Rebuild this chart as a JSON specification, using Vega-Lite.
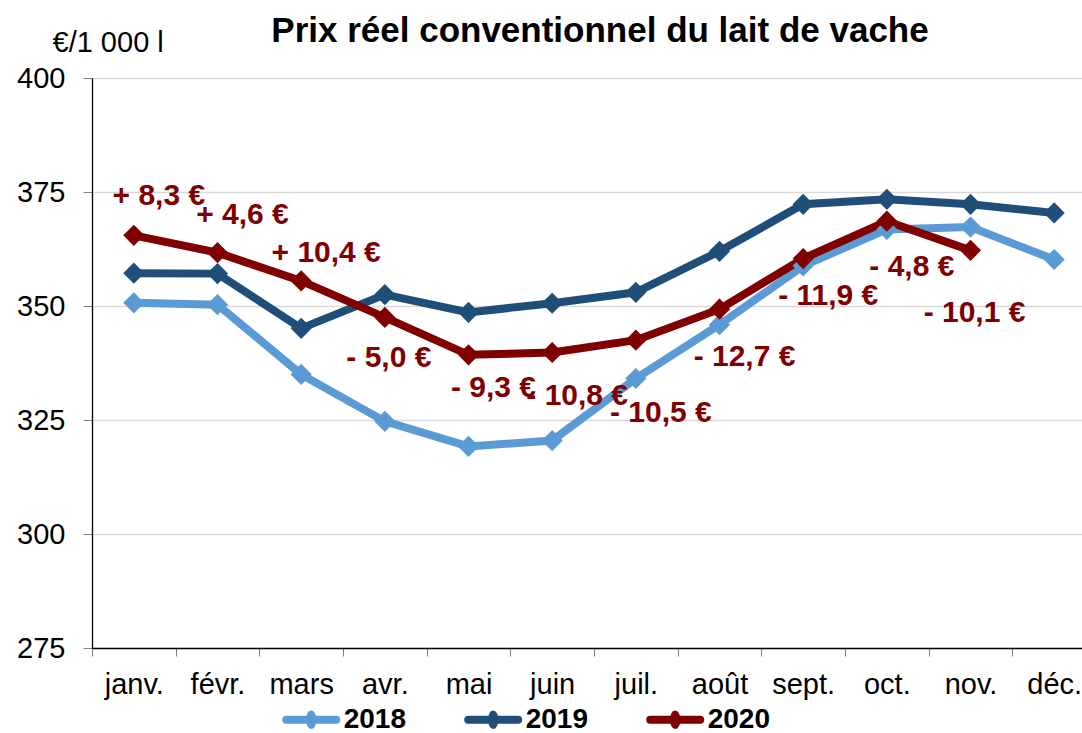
{
  "$schema": "https://vega.github.io/schema/vega-lite/v6.json",
  "autosize": {"type": "none"},
  "padding": {"left": 92, "top": 78, "right": 0, "bottom": 85},
  "width": 990,
  "height": 570,
  "background": "white",
  "config": {
    "font": "Liberation Sans",
    "view": {"stroke": null}
  },
  "title": {
    "text": "Prix réel conventionnel du lait de vache",
    "fontSize": 35,
    "fontWeight": "bold",
    "color": "black",
    "anchor": "middle",
    "frame": "group",
    "dx": 13,
    "dy": 21,
    "offset": 0
  },
  "datasets": {
    "prices": [
      {"month": "janv.", "year": "2018", "value": 350.7},
      {"month": "févr.", "year": "2018", "value": 350.3},
      {"month": "mars", "year": "2018", "value": 335.0},
      {"month": "avr.", "year": "2018", "value": 324.7},
      {"month": "mai", "year": "2018", "value": 319.2},
      {"month": "juin", "year": "2018", "value": 320.5},
      {"month": "juil.", "year": "2018", "value": 334.1},
      {"month": "août", "year": "2018", "value": 345.9},
      {"month": "sept.", "year": "2018", "value": 358.8},
      {"month": "oct.", "year": "2018", "value": 366.8},
      {"month": "nov.", "year": "2018", "value": 367.3},
      {"month": "déc.", "year": "2018", "value": 360.2},
      {"month": "janv.", "year": "2019", "value": 357.2},
      {"month": "févr.", "year": "2019", "value": 357.1},
      {"month": "mars", "year": "2019", "value": 345.1},
      {"month": "avr.", "year": "2019", "value": 352.5},
      {"month": "mai", "year": "2019", "value": 348.6},
      {"month": "juin", "year": "2019", "value": 350.6},
      {"month": "juil.", "year": "2019", "value": 353.0},
      {"month": "août", "year": "2019", "value": 362.0},
      {"month": "sept.", "year": "2019", "value": 372.3},
      {"month": "oct.", "year": "2019", "value": 373.4},
      {"month": "nov.", "year": "2019", "value": 372.3},
      {"month": "déc.", "year": "2019", "value": 370.4},
      {"month": "janv.", "year": "2020", "value": 365.5},
      {"month": "févr.", "year": "2020", "value": 361.7},
      {"month": "mars", "year": "2020", "value": 355.5},
      {"month": "avr.", "year": "2020", "value": 347.5},
      {"month": "mai", "year": "2020", "value": 339.3},
      {"month": "juin", "year": "2020", "value": 339.8},
      {"month": "juil.", "year": "2020", "value": 342.5},
      {"month": "août", "year": "2020", "value": 349.3},
      {"month": "sept.", "year": "2020", "value": 360.4},
      {"month": "oct.", "year": "2020", "value": 368.6},
      {"month": "nov.", "year": "2020", "value": 362.2}
    ],
    "labels": [
      {"month": "janv.", "label": "+ 8,3 €", "label_y": 374.1},
      {"month": "févr.", "label": "+ 4,6 €", "label_y": 370.0},
      {"month": "mars", "label": "+ 10,4 €", "label_y": 361.6},
      {"month": "avr.", "label": "- 5,0 €", "label_y": 338.6},
      {"month": "mai", "label": "- 9,3 €", "label_y": 332.0},
      {"month": "juin", "label": "- 10,8 €", "label_y": 330.3},
      {"month": "juil.", "label": "- 10,5 €", "label_y": 326.5},
      {"month": "août", "label": "- 12,7 €", "label_y": 338.8},
      {"month": "sept.", "label": "- 11,9 €", "label_y": 352.2},
      {"month": "oct.", "label": "- 4,8 €", "label_y": 358.5},
      {"month": "nov.", "label": "- 10,1 €", "label_y": 348.5}
    ]
  },
  "layer": [
    {
      "data": {"name": "prices"},
      "mark": {
        "type": "line",
        "strokeWidth": 8,
        "point": {"shape": "diamond", "filled": true, "size": 450, "opacity": 1}
      },
      "encoding": {
        "x": {
          "field": "month",
          "type": "ordinal",
          "sort": ["janv.", "févr.", "mars", "avr.", "mai", "juin", "juil.", "août", "sept.", "oct.", "nov.", "déc."],
          "scale": {
            "type": "band",
            "domain": ["janv.", "févr.", "mars", "avr.", "mai", "juin", "juil.", "août", "sept.", "oct.", "nov.", "déc."],
            "range": [0, 1004],
            "paddingInner": 0,
            "paddingOuter": 0
          },
          "axis": {
            "title": null,
            "labelAngle": 0,
            "labelFontSize": 29,
            "labelColor": "black",
            "labelBaseline": "top",
            "labelPadding": 14,
            "tickBand": "extent",
            "ticks": true,
            "tickSize": 8,
            "tickColor": "#808080",
            "domainColor": "black",
            "domainWidth": 1.3,
            "grid": false
          }
        },
        "y": {
          "field": "value",
          "type": "quantitative",
          "scale": {"domain": [275, 400], "nice": false, "zero": false},
          "axis": {
            "title": "€/1 000 l",
            "titleAngle": 0,
            "titleX": -40,
            "titleY": -27,
            "titleAlign": "left",
            "titleBaseline": "alphabetic",
            "titleFontSize": 29,
            "titleFontWeight": "normal",
            "titleColor": "black",
            "values": [275, 300, 325, 350, 375, 400],
            "labelFontSize": 29,
            "labelColor": "black",
            "labelPadding": 18,
            "tickSize": 9,
            "tickColor": "#808080",
            "domainColor": "black",
            "domainWidth": 1.3,
            "grid": true,
            "gridColor": "#d9d9d9",
            "gridWidth": 1.3
          }
        },
        "color": {
          "field": "year",
          "type": "nominal",
          "scale": {"domain": ["2018", "2019", "2020"], "range": ["#5b9bd5", "#1f4e79", "#800000"]},
          "legend": {
            "title": null,
            "orient": "none",
            "direction": "horizontal",
            "legendX": 189.7,
            "legendY": 612,
            "padding": 0,
            "symbolType": "M-0.98,0L0.98,0M0,-0.2L0.08,0L0,0.2L-0.08,0Z",
            "symbolSize": 2601,
            "symbolStrokeWidth": 8,
            "labelFontSize": 28,
            "labelFontWeight": "bold",
            "labelColor": "black",
            "labelOffset": 3,
            "columnPadding": 57,
            "encode": {
              "symbols": {
                "update": {
                  "fill": {"scale": "color", "field": "value"},
                  "strokeCap": {"value": "round"},
                  "strokeJoin": {"value": "round"},
                  "opacity": {"value": 1}
                }
              }
            }
          }
        }
      }
    },
    {
      "data": {"name": "labels"},
      "transform": [{"filter": "datum.month != 'avr.' && datum.month != 'nov.'"}],
      "mark": {"type": "text", "fontSize": 30, "fontWeight": "bold", "color": "#800000", "dx": 25, "align": "center", "baseline": "middle"},
      "encoding": {
        "x": {"field": "month", "type": "ordinal", "sort": ["janv.", "févr.", "mars", "avr.", "mai", "juin", "juil.", "août", "sept.", "oct.", "nov.", "déc."]},
        "y": {"field": "label_y", "type": "quantitative"},
        "text": {"field": "label"}
      }
    },
    {
      "data": {"name": "labels"},
      "transform": [{"filter": "datum.month == 'avr.' || datum.month == 'nov.'"}],
      "mark": {"type": "text", "fontSize": 30, "fontWeight": "bold", "color": "#800000", "dx": 4, "align": "center", "baseline": "middle"},
      "encoding": {
        "x": {"field": "month", "type": "ordinal", "sort": ["janv.", "févr.", "mars", "avr.", "mai", "juin", "juil.", "août", "sept.", "oct.", "nov.", "déc."]},
        "y": {"field": "label_y", "type": "quantitative"},
        "text": {"field": "label"}
      }
    }
  ]
}
